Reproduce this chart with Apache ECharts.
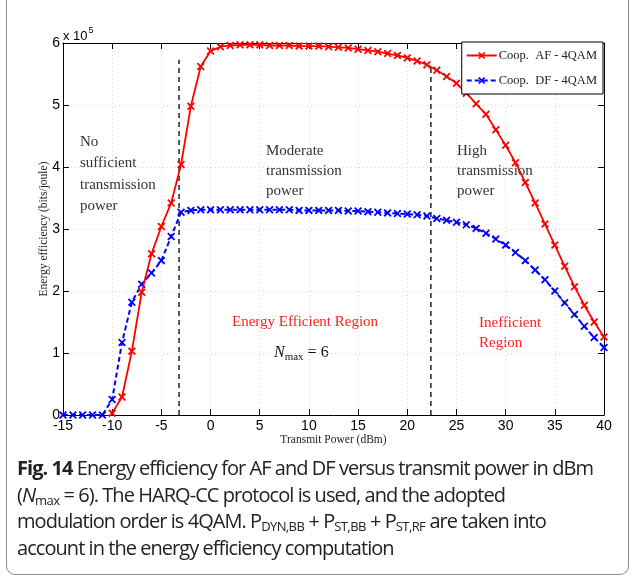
<!DOCTYPE html>
<html>
<head>
<meta charset="utf-8">
<script src="https://cdn.jsdelivr.net/npm/echarts@6/dist/echarts.min.js"></script>
<style>
  html, body { margin: 0; padding: 0; background: #fff; }
  #wrap { position: relative; width: 635px; height: 583px; overflow: hidden; }
  #frame { position: absolute; left: 6px; top: -12px; width: 623px; height: 587px; border: 1px solid #8c8c8c; border-radius: 9px; box-sizing: border-box; }
  #effChart { position: absolute; left: 0; top: 0; width: 635px; height: 583px; }
  #caption { position: absolute; left: 17px; top: 455px; width: 615px; font-family: "Open Sans", sans-serif; font-size: 20px; line-height: 26.7px; color: #222; letter-spacing: -0.95px; white-space: nowrap; }
  #caption b { font-weight: 700; }
  #caption sub { font-size: 13px; vertical-align: -3px; line-height: 0; letter-spacing: -0.6px; }
</style>
</head>
<body>
<div id="wrap">
  <div id="frame"></div>
  <div id="effChart"></div>
  <div id="caption"><b>Fig. 14</b> Energy efficiency for AF and DF versus transmit power in dBm<br>(<i>N</i><sub>max</sub> = 6). The HARQ-CC protocol is used, and the adopted<br>modulation order is 4QAM. P<sub>DYN,BB</sub> + P<sub>ST,BB</sub> + P<sub>ST,RF</sub> are taken into<br>account in the energy efficiency computation</div>
</div>
<script>
// transmit power (dBm)
var powerAF = [-10, -9, -8, -7, -6, -5, -4, -3, -2, -1, 0, 1, 2, 3, 4, 5, 6, 7, 8, 9, 10, 11, 12, 13, 14, 15, 16, 17, 18, 19, 20,
  21, 22, 23, 24, 25, 26, 27, 28, 29, 30, 31, 32, 33, 34, 35, 36, 37, 38, 39, 40];
// energy efficiency, x 10^5 bits/joule
var effAF = [0.03, 0.29, 1.03, 1.98, 2.60, 3.04, 3.42, 4.04, 4.98, 5.62, 5.87, 5.94, 5.96, 5.97, 5.97, 5.97, 5.96, 5.96, 5.96, 5.95, 5.95,
  5.95, 5.94, 5.93, 5.92, 5.90, 5.88, 5.86, 5.83, 5.80, 5.76, 5.71, 5.65, 5.56, 5.46, 5.35, 5.19, 5.02, 4.85, 4.60, 4.35,
  4.07, 3.75, 3.42, 3.08, 2.74, 2.40, 2.07, 1.77, 1.50, 1.26];

var powerDF = [-15, -14, -13, -12, -11, -10, -9, -8, -7, -6, -5, -4, -3, -2, -1, 0, 1, 2, 3, 4, 5, 6, 7, 8, 9, 10, 11, 12, 13, 14, 15,
  16, 17, 18, 19, 20, 21, 22, 23, 24, 25, 26, 27, 28, 29, 30, 31, 32, 33, 34, 35, 36, 37, 38, 39, 40];
var effDF = [0, 0, 0, 0, 0, 0.25, 1.17, 1.82, 2.11, 2.29, 2.49, 2.88, 3.27, 3.30, 3.31, 3.31, 3.31, 3.31, 3.31, 3.31, 3.31, 3.31, 3.31, 3.31,
  3.30, 3.30, 3.30, 3.30, 3.30, 3.29, 3.29, 3.28, 3.27, 3.26, 3.25, 3.24, 3.23, 3.21, 3.17, 3.14, 3.11, 3.07, 3.01, 2.93, 2.84, 2.74,
  2.62, 2.49, 2.34, 2.18, 2.00, 1.81, 1.62, 1.43, 1.25, 1.09];

// dashed region borders: x position and top end
var boundPower = [-3.2, 22.4];
var boundTop = [5.73, 5.62];

var xTicks = [-15, 40, 5];
var yTicks = [0, 6, 1];
var seriesNames = ['Coop.  AF - 4QAM', 'Coop.  DF - 4QAM'];

var crossPath = 'path://M0,1.6L1.6,0L5,3.4L8.4,0L10,1.6L6.6,5L10,8.4L8.4,10L5,6.6L1.6,10L0,8.4L3.4,5Z';
var serif = '"Liberation Serif", "DejaVu Serif", serif';
var sans = '"Liberation Sans", Arial, sans-serif';

function pairUp(xs, ys) {
  var out = [];
  for (var i = 0, len = xs.length; i < len; i++) {
    out.push([xs[i], ys[i]]);
  }
  return out;
}

var boundSeries = [];
for (var i = 0; i < boundPower.length; i++) {
  boundSeries.push({
    type: 'line',
    silent: true,
    symbol: 'none',
    data: [[boundPower[i], 0], [boundPower[i], boundTop[i]]],
    lineStyle: { color: '#222', width: 1.5, type: [5, 4] },
    z: 1
  });
}

var myChart = echarts.init(document.getElementById('effChart'), null, { renderer: 'canvas' });

var tickStyle = { show: true, inside: true, length: 6, lineStyle: { color: '#000', width: 1 } };
var gridLine = { show: true, lineStyle: { color: '#d6d6d6', type: [1, 3], width: 1 } };

var option = {
  backgroundColor: 'transparent',
  animation: false,
  grid: { left: 63, top: 43, width: 541, height: 372 },
  legend: {
    orient: 'vertical',
    right: 32,
    top: 42,
    backgroundColor: '#fff',
    borderColor: '#000',
    borderWidth: 1,
    borderRadius: 0,
    padding: [7, 6, 7, 4],
    itemGap: 12,
    itemWidth: 30,
    itemHeight: 9,
    textStyle: { fontFamily: serif, fontSize: 12.5, color: '#222', padding: [0, 0, 0, -3] },
    data: seriesNames
  },
  xAxis: [{
    type: 'value',
    min: xTicks[0], max: xTicks[1], interval: xTicks[2],
    name: 'Transmit Power (dBm)',
    nameLocation: 'middle',
    nameGap: 19,
    nameMoveOverlap: false,
    nameTextStyle: { fontFamily: serif, fontSize: 11.5, color: '#222' },
    axisLine: { onZero: false, lineStyle: { color: '#000', width: 1 } },
    axisTick: tickStyle,
    axisLabel: { fontFamily: sans, fontSize: 14, color: '#000', margin: 4 },
    splitLine: gridLine
  }, {
    type: 'value',
    position: 'top',
    min: xTicks[0], max: xTicks[1], interval: xTicks[2],
    axisLine: { onZero: false, lineStyle: { color: '#000', width: 1 } },
    axisTick: tickStyle,
    axisLabel: { show: false },
    splitLine: { show: false }
  }],
  yAxis: [{
    type: 'value',
    min: yTicks[0], max: yTicks[1], interval: yTicks[2],
    name: 'Energy efficiency (bits/joule)',
    nameLocation: 'middle',
    nameGap: 13,
    nameMoveOverlap: false,
    nameTextStyle: { fontFamily: serif, fontSize: 11.5, color: '#222' },
    axisLine: { onZero: false, lineStyle: { color: '#000', width: 1 } },
    axisTick: tickStyle,
    axisLabel: { fontFamily: sans, fontSize: 14, color: '#000', margin: 3 },
    splitLine: gridLine
  }, {
    type: 'value',
    position: 'right',
    min: yTicks[0], max: yTicks[1], interval: yTicks[2],
    axisLine: { onZero: false, lineStyle: { color: '#000', width: 1 } },
    axisTick: tickStyle,
    axisLabel: { show: false },
    splitLine: { show: false }
  }],
  graphic: [{
    type: 'text', left: 63, top: 26,
    style: {
      text: '{a|x 10}{b|5}',
      rich: {
        a: { fontFamily: sans, fontSize: 13, fill: '#000', padding: [6, 0, 0, 0] },
        b: { fontFamily: sans, fontSize: 9, fill: '#000', padding: [0, 0, 6, 1] }
      }
    }
  }, {
    type: 'text', left: 80, top: 131,
    style: { text: 'No\nsufficient\ntransmission\npower', fontFamily: serif, fontSize: 15, lineHeight: 21.5, fill: '#333' }
  }, {
    type: 'text', left: 266, top: 141,
    style: { text: 'Moderate\ntransmission\npower', fontFamily: serif, fontSize: 15, lineHeight: 20, fill: '#333' }
  }, {
    type: 'text', left: 457, top: 141,
    style: { text: 'High\ntransmission\npower', fontFamily: serif, fontSize: 15, lineHeight: 20, fill: '#333' }
  }, {
    type: 'text', left: 232, top: 315,
    style: { text: 'Energy Efficient Region', fontFamily: serif, fontSize: 15, fill: '#ff2020' }
  }, {
    type: 'text', left: 479, top: 313,
    style: { text: 'Inefficient\nRegion', fontFamily: serif, fontSize: 15, lineHeight: 20, fill: '#ff2020' }
  }, {
    type: 'text', left: 274, top: 345,
    style: {
      text: '{n|N}{s|max}{e| = 6}',
      rich: {
        n: { fontFamily: serif, fontStyle: 'italic', fontSize: 16, fill: '#111' },
        s: { fontFamily: serif, fontSize: 11, fill: '#111', padding: [8, 0, 0, 0] },
        e: { fontFamily: serif, fontSize: 16, fill: '#111' }
      }
    }
  }],
  series: boundSeries.concat([{
    name: seriesNames[0],
    type: 'line',
    data: pairUp(powerAF, effAF),
    symbol: crossPath,
    symbolSize: 8,
    showAllSymbol: true,
    lineStyle: { color: '#ff0000', width: 1.8 },
    itemStyle: { color: '#ff0000' },
    z: 3
  }, {
    name: seriesNames[1],
    type: 'line',
    data: pairUp(powerDF, effDF),
    symbol: crossPath,
    symbolSize: 8,
    showAllSymbol: true,
    lineStyle: { color: '#0000ff', width: 2, type: [5, 3] },
    itemStyle: { color: '#0000ff' },
    z: 2
  }])
};
myChart.setOption(option);
</script>
</body>
</html>
